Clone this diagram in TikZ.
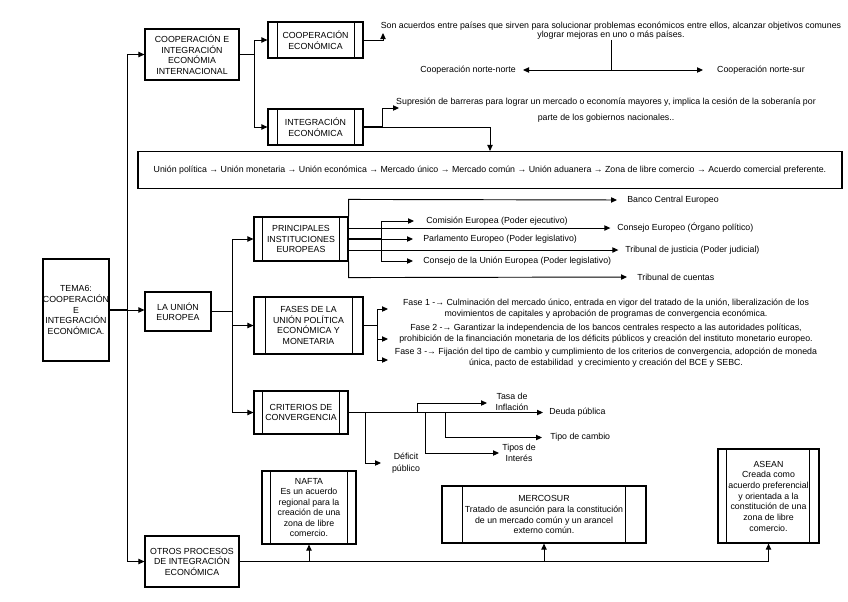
\documentclass[tikz,border=0pt]{standalone}
\usepackage{fontspec}
\setmainfont{Liberation Sans}
\usetikzlibrary{arrows.meta,calc}
\begin{document}
\begin{tikzpicture}[x=0.75pt,y=-0.75pt,
  box/.style={draw, line width=0.85pt, inner sep=0pt, align=center, font=\fontsize{6.6}{7.9}\selectfont},
  lbl/.style={inner sep=0pt, align=center, font=\fontsize{6.6}{8.2}\selectfont},
  ln/.style={line width=0.7pt},
  thk/.style={line width=1.4pt},
  arr/.style={ln, -{Triangle[length=4.5pt,width=4pt]}},
  arrtwo/.style={ln, {Triangle[length=4.5pt,width=4pt]}-{Triangle[length=4.5pt,width=4pt]}}
]
\newcommand\pbars[3]{%
  \draw[line width=0.85pt] ([xshift=#2]#1.north west) -- ([xshift=#2]#1.south west);
  \draw[line width=0.85pt] ([xshift=-#3]#1.north east) -- ([xshift=-#3]#1.south east);}
\useasboundingbox[fill=white] (0,0) rectangle (848,601);

% ---------- boxes ----------
\node[box, minimum width=49.5pt, minimum height=76.5pt] (tema) at (76,310) {TEMA6:\\COOPERACIÓN\\E\\INTEGRACIÓN\\ECONÓMICA.};
\node[box, minimum width=70.5pt, minimum height=38.25pt] (coopint) at (192,54.5) {COOPERACIÓN E\\INTEGRACIÓN\\ECONÓMIA\\INTERNACIONAL};
\node[box, minimum width=71.25pt, minimum height=27pt] (coopeco) at (315.5,40) {COOPERACIÓN\\ECONÓMICA};
\pbars{coopeco}{7.5pt}{6.75pt}
\node[box, minimum width=71.25pt, minimum height=27pt] (integ) at (315.5,127) {INTEGRACIÓN\\ECONÓMICA};
\pbars{integ}{7.5pt}{6.75pt}
\node[box, minimum width=528pt, minimum height=27.75pt, font=\fontsize{6.6}{8}\selectfont] (big) at (490,170)
 {Unión política → Unión monetaria → Unión económica → Mercado único → Mercado común → Unión aduanera → Zona de libre comercio → Acuerdo comercial preferente.};
\node[box, minimum width=49.5pt, minimum height=29.25pt] (ue) at (178,311.5) {LA UNIÓN\\EUROPEA};
\node[box, minimum width=70.5pt, minimum height=33pt] (pie) at (301,239) {PRINCIPALES\\INSTITUCIONES\\EUROPEAS};
\pbars{pie}{6.75pt}{6.75pt}
\node[box, minimum width=81.75pt, minimum height=42.75pt] (fases) at (308.5,325.5) {FASES DE LA\\UNIÓN POLÍTICA\\ECONÓMICA Y\\MONETARIA};
\pbars{fases}{9pt}{8.25pt}
\node[box, minimum width=70.5pt, minimum height=32.25pt] (crit) at (301,412.5) {CRITERIOS DE\\CONVERGENCIA};
\pbars{crit}{6.75pt}{6.75pt}
\node[box, minimum width=70.5pt, minimum height=38.25pt] (otros) at (192,561.5) {OTROS PROCESOS\\DE INTEGRACIÓN\\ECONÓMICA};
\node[box, minimum width=70.5pt, minimum height=54.75pt] (nafta) at (309,507.5) {NAFTA\\Es un acuerdo\\regional para la\\creación de una\\zona de libre\\comercio.};
\pbars{nafta}{6.75pt}{6.75pt}
\node[box, minimum width=153pt, minimum height=42.75pt, font=\fontsize{6.6}{8.2}\selectfont] (merc) at (544,514.5) {MERCOSUR\\Tratado de asunción para la constitución\\de un mercado común y un arancel\\externo común.};
\pbars{merc}{15.75pt}{15.75pt}
\node[box, minimum width=75.75pt, minimum height=70.5pt, font=\fontsize{6.6}{8}\selectfont] (asean) at (768.5,496) {ASEAN\\Creada como\\acuerdo preferencial\\y orientada a la\\constitución de una\\zona de libre\\comercio.};
\pbars{asean}{6.75pt}{7.5pt}

% ---------- labels ----------
\node[lbl, font=\fontsize{6.6}{6.9}\selectfont] (son) at (611,31) {Son acuerdos entre países que sirven para solucionar problemas económicos entre ellos, alcanzar objetivos comunes\\ylograr mejoras en uno o más países.};
\node[lbl] (nn) at (468,70) {Cooperación norte-norte};
\node[lbl] (ns) at (761,70) {Cooperación norte-sur};
\node[lbl, font=\fontsize{6.6}{12}\selectfont] (sup) at (606,110) {Supresión de barreras para lograr un mercado o economía mayores y, implica la cesión de la soberanía por\\parte de los gobiernos nacionales..};

\node[lbl, anchor=west] (banco) at (627,200) {Banco Central Europeo};
\node[lbl, anchor=west] (comi) at (426,221) {Comisión Europea (Poder ejecutivo)};
\node[lbl, anchor=west] (conse) at (617,228) {Consejo Europeo (Órgano político)};
\node[lbl, anchor=west] (parl) at (423,239) {Parlamento Europeo (Poder legislativo)};
\node[lbl, anchor=west] (trib) at (625,250) {Tribunal de justicia (Poder judicial)};
\node[lbl, anchor=west] (cue) at (423,261) {Consejo de la Unión Europea (Poder legislativo)};
\node[lbl, anchor=west] (cuen) at (637,277) {Tribunal de cuentas};

\node[lbl] (f1) at (606,308.5) {Fase 1 -→ Culminación del mercado único, entrada en vigor del tratado de la unión, liberalización de los\\movimientos de capitales y aprobación de programas de convergencia económica.};
\node[lbl] (f2) at (606,333.5) {Fase 2 -→ Garantizar la independencia de los bancos centrales respecto a las autoridades políticas,\\prohibición de la financiación monetaria de los déficits públicos y creación del instituto monetario europeo.};
\node[lbl] (f3) at (606,357.5) {Fase 3 -→ Fijación del tipo de cambio y cumplimiento de los criterios de convergencia, adopción de moneda\\única, pacto de estabilidad\ \ y crecimiento y creación del BCE y SEBC.};

\node[lbl, font=\fontsize{6.6}{9}\selectfont] (def) at (406,463) {Déficit\\público};
\node[lbl] (tasa) at (512,401.5) {Tasa de\\Inflación};
\node[lbl] (tipos) at (519,453) {Tipos de\\Interés};
\node[lbl, anchor=west] (cambio) at (550,437.5) {Tipo de cambio};
\node[lbl, anchor=west] (deuda) at (549,412.5) {Deuda pública};

% ---------- connectors ----------
\coordinate (trunk) at (127,310);
\draw[thk] (tema.east |- trunk) -- (trunk);
\draw[arr] (trunk) |- (coopint.west);
\draw[arr] (trunk) -- (ue.west |- trunk);
\draw[arr] (trunk) |- (otros.west);

\coordinate (s1) at (254,54.5);
\draw[thk] (coopint.east) -- (s1);
\draw[arr] (s1) |- (coopeco.west);
\draw[arr] (s1) |- (integ.west);

\coordinate (sonA) at (383,33);
\draw[arr] (coopeco.east) -| (sonA);
\coordinate (nnA) at (523,70);
\coordinate (nsA) at (703,70);
\draw[arrtwo] (nnA) -- (nsA);
\draw[ln] (son.south) -- (son.south |- nnA);

\coordinate (s2) at (382,127);
\coordinate (supA) at (399,108);
\draw[thk] (integ.east) -- (s2);
\draw[arr] (s2) |- (supA);
\draw[arr] (s2) -| (big.north);

\coordinate (t2) at (232,311.5);
\draw[thk] (ue.east) -- (t2);
\draw[arr] (t2) |- (pie.west);
\draw[arr] (t2) |- (fases.west);
\draw[arr] (t2) |- (crit.west);

% principales instituciones
\coordinate (pb) at (381,239);
\draw[arr, shorten >=7.5pt] (pie.north east) -- ++(0,-17) -- (banco.west);
\draw[arr, shorten >=7.5pt] (pie.south east) -- ++(0,16) -- (cuen.west);
\draw[arr, shorten >=5pt] ($(pie.east)+(0,-11)$) -- (conse.west);
\draw[arr, shorten >=5pt] ($(pie.east)+(0,11)$) -- (trib.west);
\draw[thk] (pie.east) -- (pb);
\draw[arr, shorten >=9pt] (pb) |- (comi.west);
\draw[arr, shorten >=7.5pt] (pb) -- (parl.west);
\draw[arr, shorten >=7.5pt] (pb) |- (cue.west);

% fases
\coordinate (fb) at (377,325.5);
\coordinate (f1A) at (388,309);
\coordinate (f2A) at (388,339);
\coordinate (f3A) at (388,360);
\draw[thk] (fases.east) -- (fb);
\draw[arr] (fb) |- (f1A);
\draw[arr] (fb) |- (f2A);
\draw[arr] (fb) |- (f3A);

% criterios
\draw[arr, shorten >=4.5pt] (crit.east) -- (deuda.west);
\coordinate (b1) at (365,412.5);
\coordinate (b2) at (417,412.5);
\coordinate (b3) at (425,412.5);
\coordinate (b4) at (445,412.5);
\coordinate (defA) at (381,463);
\coordinate (tasaA) at (487,403);
\coordinate (tiposA) at (499,453);
\draw[arr] (b1) |- (defA);
\draw[arr] (b2) |- (tasaA);
\draw[arr] (b3) |- (tiposA);
\draw[arr, shorten >=6pt] (b4) |- (cambio.west);

% otros procesos
\coordinate (mc) at (544,561.5);
\draw[thk] (otros.east) -- (mc);
\draw[arr] (otros.east) -| (nafta.south);
\draw[arr] (mc) -- (merc.south);
\draw[arr] (mc) -| (asean.south);
\end{tikzpicture}
\end{document}
